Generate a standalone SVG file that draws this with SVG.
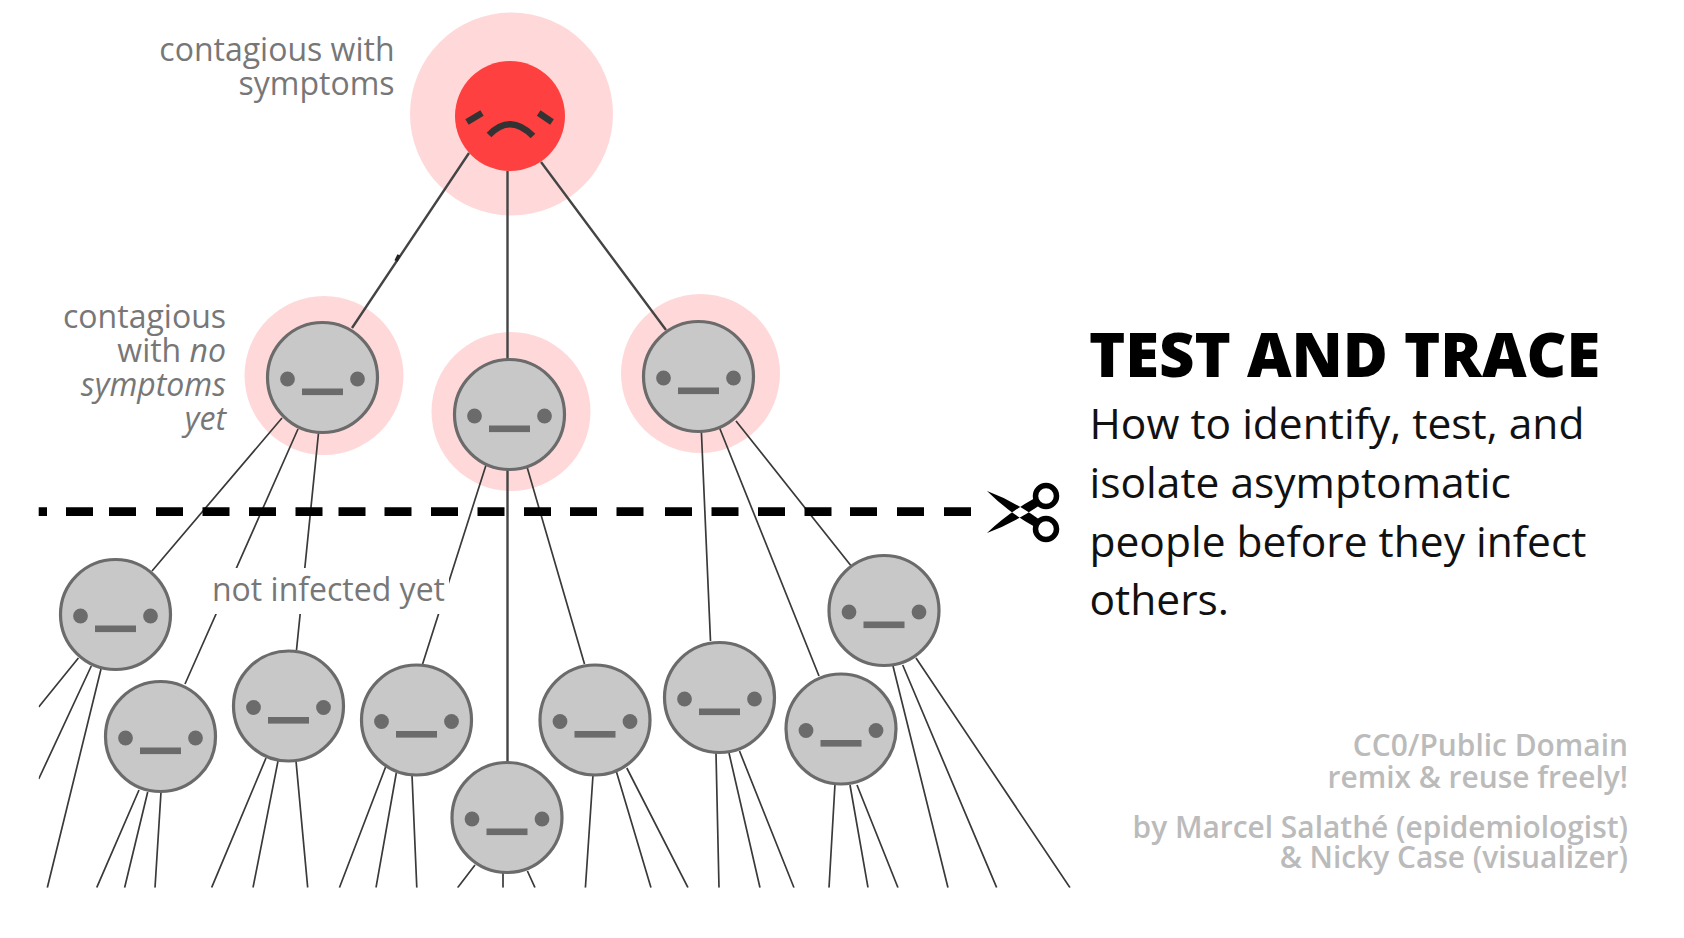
<svg xmlns="http://www.w3.org/2000/svg" width="1684" height="938" viewBox="0 0 1684 938">
<style>
text{font-family:"Open Sans","Noto Sans","Liberation Sans",sans-serif}
.lab{font-size:32px;fill:#777;text-anchor:end}
.body{font-size:42.5px;fill:#111}
.cred{font-size:29.9px;font-weight:600;fill:#bbb;text-anchor:end}
.halo{fill:#ffd9d9}
.t{stroke:#3a3a3a;stroke-width:1.7;fill:none}
.k{stroke:#444;stroke-width:2.4;fill:none}
.fc{fill:#c8c8c8;stroke:#6b6b6b;stroke-width:3.2}
.fe{fill:#6b6b6b}
</style>
<defs>
<clipPath id="area"><rect x="38.7" y="0" width="1100" height="887.7"/></clipPath>
<g id="face">
<circle class="fc" r="55"/>
<ellipse class="fe" cx="-35" cy="1.5" rx="7.4" ry="7.4"/>
<ellipse class="fe" cx="35" cy="1.5" rx="7.4" ry="7.4"/>
<rect class="fe" x="-20.5" y="11" width="41" height="6.6"/>
</g>
</defs>
<rect width="1684" height="938" fill="#fff"/>
<g id="halos">
<circle class="halo" cx="511.5" cy="114" r="101.5"/>
<circle class="halo" cx="324" cy="375.5" r="79.5"/>
<circle class="halo" cx="511" cy="411.5" r="79.5"/>
<circle class="halo" cx="700.5" cy="373.5" r="79.5"/>
</g>
<g id="connectors" clip-path="url(#area)">
<path class="k" d="M469 153L352 328M507.5 171V761M541 162L666 330"/>
<path d="M396 261L399 255" stroke="#222" stroke-width="3.5"/>
<path class="t" d="M282 418L152 571M298 429L185 684M318.5 433L296.5 650M487 462L422.6 664M525 460L584.5 664M701.4 432L710.5 641M719.6 428L819 676M736 421L852 567"/>
<path class="t" d="M78.4 658L38.7 707M91.3 666L38.7 779M101 669L47.3 887.7M139 790L96.7 887.7M147.7 792L124.6 887.7M161 792L155 887.7M266 758L211.6 887.7M278 761L253 887.7M296 761L307.7 887.7M385.6 767L339.4 887.7M396.3 773L376 887.7M412 775L416.8 887.7M475 865L457.6 887.7M503 873V887.7M527.4 871L535 887.7M593 775L585.4 887.7M616.5 772L651 887.7M626.8 768L688 887.7M716 753L719 887.7M729 753L760 887.7M739.5 751L794 887.7M835 784L829 887.7M850 785L868 887.7M857 785L898 887.7M893 666L948 887.7M902.7 665L996.7 887.7M916 658L1070 887.7"/>
</g>
<g id="cut-line">
<path d="M38.7 511.7H47M66 511.7H93M109 511.7H136M156 511.7H183M202.5 511.7H229.5M249 511.7H276M295.5 511.7H322.5M338.5 511.7H365.5M384.5 511.7H411.5M431 511.7H458M477.5 511.7H504.5M524 511.7H551M570 511.7H597M616.5 511.7H643.5M665 511.7H692M711.5 511.7H738.5M758 511.7H785M804.5 511.7H831.5M850 511.7H877M897 511.7H924M944 511.7H971" stroke="#000" stroke-width="8.7" fill="none"/>
</g>
<g id="label-not-infected">
<rect x="212" y="568" width="237" height="46" fill="#fff"/>
<text class="lab" x="445" y="600.5">not infected yet</text>
</g>
<g id="node-sick">
<circle cx="510" cy="116" r="55" fill="#ff4040"/>
<path d="M467 122L482 113M538.7 113L552 122M489 135Q510 113 533 136" stroke="#333" stroke-width="6.5" fill="none"/>
</g>
<g id="node-a"><use href="#face" x="322.5" y="377.5"/></g>
<g id="node-b"><use href="#face" x="509.5" y="414.5"/></g>
<g id="node-c"><use href="#face" x="698.5" y="376.5"/></g>
<g id="node-1"><use href="#face" x="115.5" y="614.5"/></g>
<g id="node-2"><use href="#face" x="160.5" y="736.5"/></g>
<g id="node-3"><use href="#face" x="288.5" y="706"/></g>
<g id="node-4"><use href="#face" x="416.5" y="720"/></g>
<g id="node-5"><use href="#face" x="507" y="817.5"/></g>
<g id="node-6"><use href="#face" x="595" y="720"/></g>
<g id="node-7"><use href="#face" x="719.5" y="697.5"/></g>
<g id="node-8"><use href="#face" x="841" y="729"/></g>
<g id="node-9"><use href="#face" x="884" y="610.5"/></g>
<g id="scissors">
<circle cx="1046" cy="496" r="10.5" fill="none" stroke="#000" stroke-width="5.5"/>
<circle cx="1046" cy="529" r="10.5" fill="none" stroke="#000" stroke-width="5.5"/>
<path d="M987 491Q1014 501 1040 520L1035 527Q1008 512 987 491ZM987 533Q1014 523 1040 505L1035 498Q1008 513 987 533Z" fill="#000"/>
</g>
<g id="labels">
<text class="lab" x="394.5" y="61">contagious with</text>
<text class="lab" x="394.5" y="95">symptoms</text>
<text class="lab" x="226" y="328">contagious</text>
<text class="lab" x="226" y="361.5">with <tspan font-style="italic">no</tspan></text>
<text class="lab" x="226" y="395.5" font-style="italic">symptoms</text>
<text class="lab" x="226" y="430" font-style="italic">yet</text>
</g>
<g id="title">
<text x="1089" y="377" font-size="61.5" font-weight="800" fill="#000">TEST AND TRACE</text>
<text class="body" x="1089.5" y="439">How to identify, test, and</text>
<text class="body" x="1089.5" y="498">isolate asymptomatic</text>
<text class="body" x="1089.5" y="557">people before they infect</text>
<text class="body" x="1089.5" y="615">others.</text>
</g>
<g id="credits">
<text class="cred" x="1628" y="755.7">CC0/Public Domain</text>
<text class="cred" x="1628" y="787.7">remix &amp; reuse freely!</text>
<text class="cred" x="1628" y="837.7">by Marcel Salathé (epidemiologist)</text>
<text class="cred" x="1628" y="867.7">&amp; Nicky Case (visualizer)</text>
</g>
</svg>
